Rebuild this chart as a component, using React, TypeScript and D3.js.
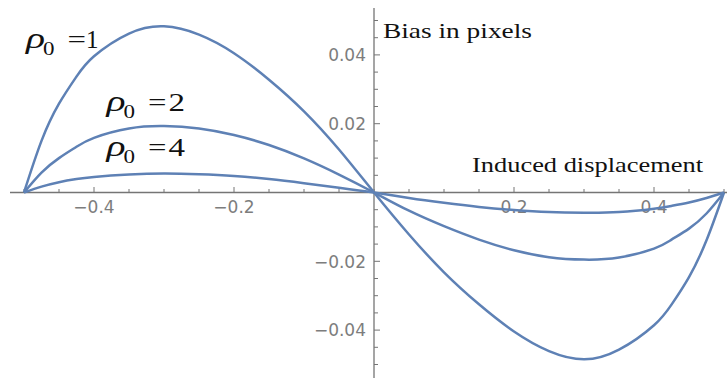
import React from 'react';
import * as d3 from 'd3';

// displacement values (x) and bias for each rho0
const displacement = [
  -0.5, -0.475, -0.45, -0.425, -0.4, -0.35, -0.3, -0.25, -0.2, -0.15, -0.1, -0.05, 0,
  0.05, 0.1, 0.15, 0.2, 0.25, 0.3, 0.35, 0.4, 0.425, 0.45, 0.475, 0.5,
];
const biasRho1 = [
  0, 0.015, 0.0258, 0.0337, 0.0396, 0.0462, 0.0483, 0.0459, 0.0405, 0.0328, 0.0236, 0.0125, 0,
  -0.0122, -0.0232, -0.0325, -0.0404, -0.0461, -0.0485, -0.0457, -0.0386, -0.0326, -0.0246, -0.0139, 0,
];
const biasRho2 = [
  0, 0.0058, 0.01, 0.0133, 0.0159, 0.0186, 0.0193, 0.0186, 0.0167, 0.0138, 0.0099, 0.0052, 0,
  -0.0053, -0.0098, -0.0137, -0.0168, -0.0188, -0.0195, -0.0189, -0.0163, -0.0137, -0.0105, -0.0061, 0,
];
const biasRho4 = [
  0, 0.0017, 0.003, 0.0039, 0.0045, 0.0052, 0.0055, 0.0053, 0.0048, 0.0039, 0.0027, 0.0014, 0,
  -0.0016, -0.003, -0.0042, -0.0051, -0.0057, -0.0059, -0.0057, -0.0047, -0.0039, -0.0029, -0.0016, 0,
];
const series = [biasRho1, biasRho2, biasRho4];

const xTickLabels = [-0.4, -0.2, 0.2, 0.4];
const yTickLabels = [-0.04, -0.02, 0.02, 0.04];
const rhoLabels = ['1', '2', '4'];

const width = 727;
const height = 378;
const lineColor = '#5e81b5';
const axisColor = '#757575';
const tickTextColor = '#7d7d7d';

const App = () => {
  const x = d3.scaleLinear().domain([-0.5, 0.5]).range([24, 724]);
  const y = d3.scaleLinear().domain([-0.05, 0.05]).range([364.5, 20.5]);

  const line = d3
    .line<number>()
    .x((_, i) => x(displacement[i]))
    .y((d) => y(d))
    .curve(d3.curveNatural);

  const x0 = x(0);
  const y0 = y(0);
  const fmt = (v: number) => (v < 0 ? '\u2212' : '') + d3.format('.2~f')(Math.abs(v));

  // label anchor points (left edge, baseline) near each curve
  const labelPos = [
    [26, 48],
    [106.5, 111],
    [106.5, 155.5],
  ];

  return (
    <svg
      width={width}
      height={height}
      style={{ position: 'absolute', left: 0, top: 0, background: '#fff' }}
    >
      {/* axes */}
      <line x1={10} x2={727} y1={y0} y2={y0} stroke={axisColor} strokeWidth={1.3} />
      <line x1={x0} x2={x0} y1={8} y2={378} stroke={axisColor} strokeWidth={1.3} />

      {/* x ticks */}
      {x.ticks(20).map((t) => {
        const major = xTickLabels.some((v) => Math.abs(v - t) < 1e-9);
        return (
          <line
            key={'xt' + t}
            x1={x(t)}
            x2={x(t)}
            y1={y0}
            y2={y0 - (major ? 5.5 : 3.5)}
            stroke={axisColor}
            strokeWidth={1}
          />
        );
      })}
      {xTickLabels.map((t) => (
        <text
          key={'xl' + t}
          x={x(t)}
          y={213}
          textAnchor="middle"
          fontFamily="DejaVu Sans"
          fontSize={17}
          fill={tickTextColor}
        >
          {fmt(t)}
        </text>
      ))}

      {/* y ticks */}
      {y.ticks(20).map((t) => {
        const major = yTickLabels.some((v) => Math.abs(v - t) < 1e-9);
        return (
          <line
            key={'yt' + t}
            x1={x0}
            x2={x0 + (major ? 6 : 4)}
            y1={y(t)}
            y2={y(t)}
            stroke={axisColor}
            strokeWidth={1}
          />
        );
      })}
      {yTickLabels.map((t) => (
        <text
          key={'yl' + t}
          x={366}
          y={y(t) + 6.3}
          textAnchor="end"
          fontFamily="DejaVu Sans"
          fontSize={17}
          fill={tickTextColor}
        >
          {fmt(t)}
        </text>
      ))}

      {/* curves */}
      {series.map((s, i) => (
        <path
          key={'s' + i}
          d={line(s) || ''}
          fill="none"
          stroke={lineColor}
          strokeWidth={2.5}
        />
      ))}

      {/* axis titles */}
      <text
        x={383}
        y={38}
        fontFamily="Liberation Serif"
        fontSize={21}
        textLength={149}
        lengthAdjust="spacingAndGlyphs"
        fill="#111"
      >
        Bias in pixels
      </text>
      <text
        x={472}
        y={171.5}
        fontFamily="Liberation Serif"
        fontSize={21}
        textLength={231}
        lengthAdjust="spacingAndGlyphs"
        fill="#111"
      >
        Induced displacement
      </text>

      {/* rho labels */}
      {rhoLabels.map((r, i) => {
        const [lx, ly] = labelPos[i];
        return (
          <g key={'r' + r} fontFamily="Liberation Serif" fill="#111">
            <text x={lx} y={ly} fontSize={29} fontStyle="italic" textLength={19} lengthAdjust="spacingAndGlyphs">
              ρ
            </text>
            <text x={lx + 17} y={ly + 7} fontSize={19} textLength={11.5} lengthAdjust="spacingAndGlyphs">
              0
            </text>
            <text x={lx + 41.5} y={ly} fontSize={26} textLength={18.5} lengthAdjust="spacingAndGlyphs">
              =
            </text>
            <text x={r === '1' ? lx + 60 : lx + 62} y={ly} fontSize={26} textLength={r === '1' ? 12.5 : 16.5} lengthAdjust="spacingAndGlyphs">
              {r}
            </text>
          </g>
        );
      })}
    </svg>
  );
};

export default App;
